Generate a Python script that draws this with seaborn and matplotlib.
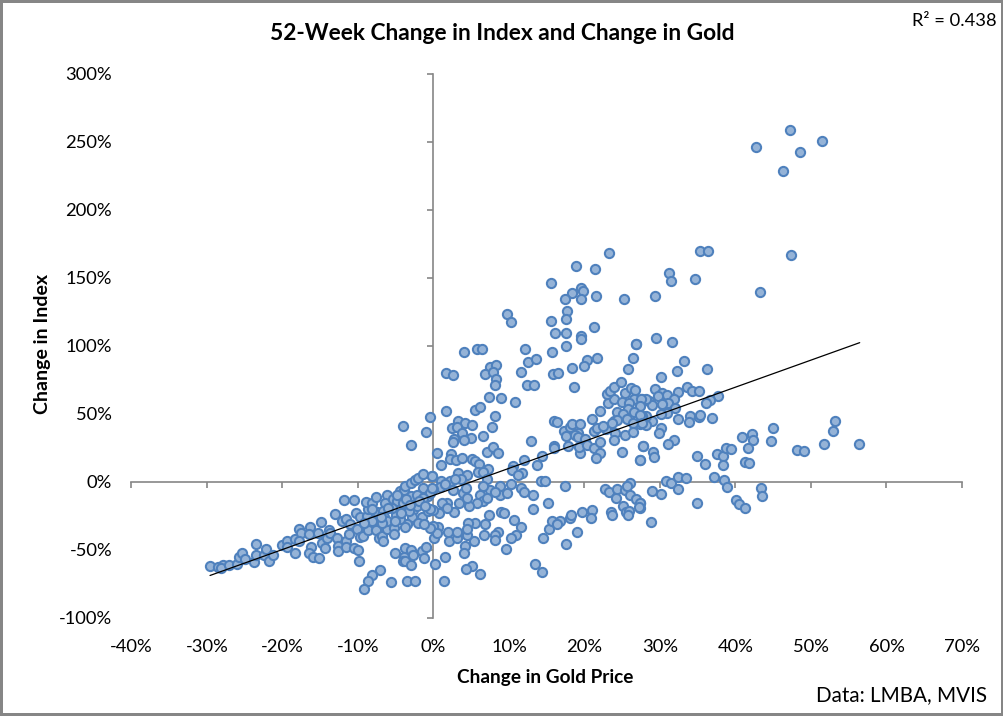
import matplotlib
matplotlib.use("Agg")
import matplotlib.pyplot as plt
import seaborn as sns
import pandas as pd

# (change in gold %, change in index %)
high_right = [(42.7,245.9),(47.2,258.4),(48.5,242.2),(51.4,250.3),(46.3,228.2),(35.25,169.4),(36.35,169.4),(47.35,166.5),(31.2,153.2),(31.45,147.8),(34.7,148.8),(43.2,139.2),(29.3,136.3),(29.5,105.4),(31.6,102.5),(33.2,88.5),(32.2,81.2),(36.2,82.6),(30.1,76.7)]
right_band = [(33.6,69.4),(34.2,66.5),(35.2,66.5),(32.4,65.7),(29.3,67.9),(30.3,65.5),(30.9,63.5),(37.7,62.8),(36.6,59.8),(36.05,57.6),(31.85,60.6),(29.7,63),(28.5,59.1),(31.05,57.6),(28.9,56.2),(30.3,56.9),(32,54.4),(27.6,60.6),(28.2,60.6),(27.35,56.2),(34,48.3),(35.1,47.8),(35.35,48.8),(36.9,46.6),(33.85,43.7),(32.4,45.9),(30.9,50.8),(30.1,49.5),(28.9,44.4),(28.2,48.3),(28.15,41.5),(27.6,48.3),(27.35,42.2),(30.1,39.3),(29.9,35.6),(31.85,30.4),(31.05,27.5),(27.8,26),(29.05,21.6),(29.2,17.9),(27.35,15.7),(34.9,18.7),(36,12.8),(37.55,20.1),(38.35,18.7),(38.75,24.5),(39.35,23.8),(38.35,12),(40.85,32.6),(42.2,34.8),(42.3,30.4),(41.65,24.5),(41.3,14.2),(41.8,13.5),(45,39.2),(44.7,29.7),(48.15,23.1),(49.05,22.3),(51.7,27.5),(52.9,37),(53.2,44.4),(56.35,27.5)]
right_low = [(30.8,.3),(31.45,-1.2),(32.4,3.2),(33.45,2.5),(32.4,-5.6),(28.9,-7.1),(30.1,-9.3),(37.15,3.2),(38.5,1),(38.9,-4.1),(34.9,-15.9),(40.05,-13.7),(40.4,-16.6),(41.25,-19.6),(43.4,-4.9),(43.5,-10.8),(28.8,-29.9),(27.35,-16),(27.35,-19)]
mid_top = [(23.3,167.9),(18.9,158.3),(21.4,156.1),(15.6,145.8),(19.6,142.2),(19.75,140),(18.35,138.5),(17.4,134.1),(19.6,134.6),(21.5,136.3),(25.2,134.1),(17.7,125.3),(17.55,119.9),(9.8,123),(10.25,117.2),(15.6,117.9),(21.25,113.5),(16.1,109.1),(17.5,109.1),(19.5,106.9),(19.5,104.6),(26.8,100.9)]
mid_upper = [(4.0,95),(5.8,97.2),(6.4,97.2),(12.1,97.2),(15.7,95),(17.5,99.5),(26.8,100.9),(12.5,87.7),(13.6,89.9),(20.3,89.2),(21.7,90.6),(26.4,90.6),(7.5,84),(8.3,85.5),(11.6,81),(6.8,78.9),(7.9,80.8),(8.3,75.7),(8.1,70.8),(1.6,79.6),(2.6,78.1),(12.4,70.8),(13.3,70.8),(15.8,78.9),(16.5,79.6),(18.3,83.3),(19.9,84.7),(25.8,82.5),(18.6,69.3),(7.4,61.9),(9,61.2),(10.8,58.3),(5.5,52.4),(6.2,54.6),(1.7,51.7),(8.1,48),(-.46,47.2),(-.95,36.3),(-4,41.2),(3.25,44.3),(4.2,42.8),(2.45,39.2),(3.1,40.4),(5.1,41.4),(7.75,39.9),(3.8,36),(6.6,33.3),(5,31.8),(2.7,31.6),(2.6,28.9),(4,30.3),(12.9,29.6),(7.1,22.2),(7.9,25.2),(8.55,20.8),(.5,20.8),(2.3,20.1),(2.2,16.9),(3,15.6),(3.8,17.1),(1,12),(5.15,16.4),(5.5,14.9),(6,12.7),(5.9,7.5),(7.2,9),(6.6,7.3),(3.25,6.1),(4.45,4.6),(-.25,3.9),(.95,.9),(2.25,.4),(3.7,1.7),(2.85,2.1),(7.15,1.7),(10.5,11.2),(10.4,8.8),(12,15.6),(14.4,18.6),(13.7,12),(11.7,6.1),(11.2,4.6),(14.2,.2),(14.8,.9),(10.3,-1.5),(17.4,-3.5)]
center_band = [(15.9,25.9),(16,24.5),(17.8,25.9),(19.4,20.8),(16,44.3),(16.3,43.6),(17.3,37),(17.55,33.3),(18.1,40.4),(18.35,42.1),(19.45,42.1),(19.15,36),(18.8,34.7),(19.15,33),(20.1,31.1),(19.3,25.7),(20.3,26.7),(21.2,24.5),(22,21.3),(21.5,17.3),(22.05,29.1),(21.2,37),(21.6,39.6),(21,45.8),(22.05,51.7),(23.1,57.5),(23.9,60.5),(23,64.2),(23.4,66.6),(23.9,69.6),(24.8,73),(25.4,65.4),(26.2,68.6),(26.7,67.1),(25,58.3),(26.55,60.5),(27.45,60.5),(25.85,58),(27.3,56),(25.8,53.1),(24.3,51.2),(25.05,49.7),(26.55,51.2),(27.35,49.2),(23.9,44.6),(24.35,45.3),(22.9,38.4),(23.65,43.3),(25.6,45.8),(26.4,42.8),(27.6,43.3),(24.05,36),(23.9,30.3),(25.4,34.7),(26.4,36.5),(24.95,21.5),(27.3,15.6),(27.75,25.9),(22.5,40.9)]
mid_low = [(11.6,-4.9),(12,-7.2),(13.2,-10.1),(15.2,-15.3),(13.2,-19.7),(8.95,-22.6),(9.35,-23.3),(7.35,-24.8),(10.7,-27.8),(5.5,-30),(4.55,-30),(6.8,-31.4),(11.6,-33.6),(10.9,-39.5),(10.2,-41),(8.6,-37.3),(8.1,-38.8),(8.15,-42.5),(6.7,-39.5),(5.4,-43.2),(4.2,-47.4),(4,-52.5),(9.6,-49.8),(14.5,-41.7),(15.3,-35.1),(15.7,-29.2),(16.7,-28.5),(16.3,-30.7),(18.1,-27),(18.2,-24.8),(19,-36.6),(17.5,-46.1),(19.65,-22.6),(21,-21.1),(20.8,-27),(23.5,-22.6),(23.6,-24.8),(13.45,-60.1),(14.4,-66.7),(6.2,-67.5),(5.15,-61.6),(4.3,-63.8),(1.4,-72.6),(1.5,-55),(.2,-60.8),(.07,-41.7),(2.05,-43.2),(3.1,-41),(4.4,-39.5),(4.4,-35.1),(1.9,-36.6),(3.1,-36.6),(.6,-33.6),(0,-32.7),(.4,-37.5),(22.75,-5.7),(23.25,-7.9),(24.2,-12.3),(24.3,-5.7),(25.4,-6.4),(26,-.8),(25.6,-3.5),(26,-10.1),(26.8,-13),(27.35,-16),(27.2,-18.9),(25.1,-18.2),(25.45,-21.9),(25.95,-21.4),(25.8,-24.8)]
center_low = [(8.8,-3.5),(8.8,-10.1),(9.8,-8.6),(7.5,-6.4),(8.15,-7.9),(6.6,-3.5),(6.2,-10.1),(6.6,-14.5),(7.15,-11.6),(5.7,-15.3),(4.7,-17.5),(3.95,-8.6),(4.3,-4.5),(3.4,-15.5),(2.7,-21.9),(1.85,-15.5),(1.1,-15.5),(.75,-22.8),(0,-20.9),(1.75,-19.2),(2.55,-6.2),(.8,-4.2),(0,-5.7),(1.5,-2),(4.4,-11.8)]
left_tail = [(-29.6,-62.3),(-28.5,-62.8),(-27.9,-61.5),(-28.15,-63.3),(-27.1,-61.5),(-26.05,-60.3),(-25.7,-55.2),(-25.3,-52.7),(-25,-56.6),(-23.8,-58.9),(-23.5,-45.4),(-23.55,-53.5),(-22.5,-53.5),(-22.2,-49.8),(-21.8,-57.9),(-21.2,-54.2),(-20,-46.8),(-19.4,-43.9),(-19.35,-47.8),(-18.35,-52.2),(-18.35,-41.9),(-17.8,-35),(-17.6,-37.5),(-17.8,-43.9),(-16.35,-33.6),(-16.45,-38.7),(-16.2,-48),(-16.5,-52.7),(-16,-55.4),(-15.2,-56.4),(-14.9,-29.9),(-15.25,-37.5),(-14.8,-44.9),(-14.4,-49),(-14.15,-41.2),(-13.85,-35.6),(-13.7,-37.5),(-13,-24),(-12.75,-41.7),(-12.6,-47.3),(-12.65,-50.8),(-12.15,-29),(-11.6,-27.7),(-11.85,-13.7),(-10.5,-13.3),(-11.6,-43.2),(-11.6,-47.8),(-11.2,-38.7),(-11.05,-30.7),(-10.5,-49),(-10,-50),(-9.9,-57.9)]
left_dense = [(-10.2,-23.3),(-9.75,-25.8),(-10.1,-35),(-9.8,-40.5),(-9.3,-40),(-8.75,-25.3),(-8.7,-20.4),(-8.7,-35.6),(-9,-15),(-8.2,-16),(-7.6,-11.5),(-7.5,-22.3),(-7.6,-31.6),(-7.6,-35.6),(-7.2,-41.4),(-6.8,-40),(-6.65,-43.6),(-6.2,-10.1),(-6.4,-15.5),(-6.75,-21.6),(-6.55,-25.8),(-6.1,-35),(-5.3,-12.5),(-5,-24.8),(-5.2,-33.8),(-5.2,-38.7),(-4.4,-6.9),(-3.9,-6.4),(-3.8,-3.2),(-3,-1.3),(-2.45,1.2),(-2.05,2.4),(-1.4,5.6),(-1.4,-4.4),(-3,-10.6),(-2.15,-10.1),(-2.65,-20.9),(-2.85,-25.8),(-1.55,-26.2),(-3.55,-31.4),(-3.8,-33.6),(-4.9,-14.2),(-5.55,-19.1),(-4,-15.5),(-3.3,-21.6),(-2.2,-17.9),(-4.45,-27.7),(-.7,-21.6),(-.7,-10.6),(-6.2,-28.9),(-8.2,-28.9),(-6.85,-30.2),(-.2,4.1),(-.5,-8.6),(-1.35,-11.8),(-.25,-4.4),(-.45,-20.4),(-.45,-33.8),(-3,26.7),(-9.2,-30),(-8.1,-20),(-7,-26),(-6,-19),(-5.1,-29),(-4.3,-23),(-4.8,-9.5),(-3.6,-13),(-3.1,-17),(-2,-30),(-1.9,-14),(-1.1,-18),(-1.3,-31)]
left_low = [(-5.1,-52.7),(-3.8,-49),(-3,-50),(-3.9,-55.2),(-2.65,-54.2),(-4.1,-58.4),(-3.8,-58.4),(-3,-61),(-1.55,-51.2),(-1,-48.3),(-1.25,-56.4),(-7.05,-65.2),(-8.15,-68.9),(-8.7,-72.6),(-9.2,-79.2),(-5.6,-74),(-3.5,-72.6),(-2.45,-72.6)]

trend_gold = [-29.6, 56.45]
trend_index = [-68.9, 102.2]

x_ticks = list(range(-40, 71, 10))
y_ticks = list(range(-100, 301, 50))
title_text = "52-Week Change in Index and Change in Gold"
x_title = "Change in Gold Price"
y_title = "Change in Index"
r2_text = "R² = 0.438"
source_text = "Data: LMBA, MVIS"

sns.set_theme(style="white")
plt.rcParams["font.family"] = ["Lato", "DejaVu Sans"]

W, H = 1004, 716
fig = plt.figure(figsize=(W / 100, H / 100), dpi=100)
fig.patch.set_facecolor("white")
fig.patch.set_edgecolor("#868686")
fig.patch.set_linewidth(2.9)

L, R, T, B = 131.5, 962.0, 73.5, 617.8
ax = fig.add_axes([L / W, 1 - B / H, (R - L) / W, (B - T) / H])
ax.set_xlim(-40, 70)
ax.set_ylim(-100, 300)

pairs = (high_right + right_band + right_low + mid_top + mid_upper + center_band
         + mid_low + center_low + left_tail + left_dense + left_low)
df = pd.DataFrame(pairs, columns=["gold", "index"])
sns.scatterplot(data=df, x="gold", y="index", ax=ax, s=44, color="#95B3D7",
                edgecolor="#4F81BD", linewidth=1.5, zorder=3, legend=False, clip_on=False)
sns.lineplot(x=trend_gold, y=trend_index, ax=ax, color="black", linewidth=0.9,
             zorder=4, estimator=None, sort=False)

for s in ax.spines.values():
    s.set_visible(False)
ax.grid(False)
ax.set_xticks(x_ticks)
ax.set_yticks(y_ticks)
ax.set_xticklabels([f"{v}%" for v in x_ticks])
ax.set_yticklabels([f"{v}%" for v in y_ticks])
ax.tick_params(axis="x", length=0, pad=15.2, labelsize=13.2, labelcolor="black")
ax.tick_params(axis="y", length=0, pad=14, labelsize=13.2, labelcolor="black")

GREY = "#868686"
sx = ax.secondary_xaxis(0.25)
sx.set_xticks(x_ticks)
sx.set_xticklabels([])
sx.tick_params(axis="x", direction="out", length=4.2, width=1.2, color=GREY)
sx.spines["bottom"].set_color(GREY)
sx.spines["bottom"].set_linewidth(1.2)
sy = ax.secondary_yaxis(40 / 110)
sy.set_yticks(y_ticks)
sy.set_yticklabels([])
sy.tick_params(axis="y", direction="out", length=4.2, width=1.2, color=GREY)
sy.spines["left"].set_color(GREY)
sy.spines["left"].set_linewidth(1.2)

ax.set_xlabel("")
ax.set_ylabel("")
fig.text(502 / W, 1 - 33.5 / H, title_text, ha="center", va="center", fontsize=16.4, fontweight="bold", color="black")
fig.text(545.5 / W, 1 - 677 / H, x_title, ha="center", va="center", fontsize=13.7, fontweight="bold", color="black")
fig.text(42.5 / W, 1 - 344 / H, y_title, ha="center", va="center", rotation=90, fontsize=14, fontweight="bold", color="black")
fig.text(997 / W, 1 - 21 / H, r2_text, ha="right", va="center", fontsize=13.2, color="black")
fig.text(987 / W, 1 - 695 / H, source_text, ha="right", va="center", fontsize=14.9, color="black")

fig.savefig("out.png", dpi=100)
